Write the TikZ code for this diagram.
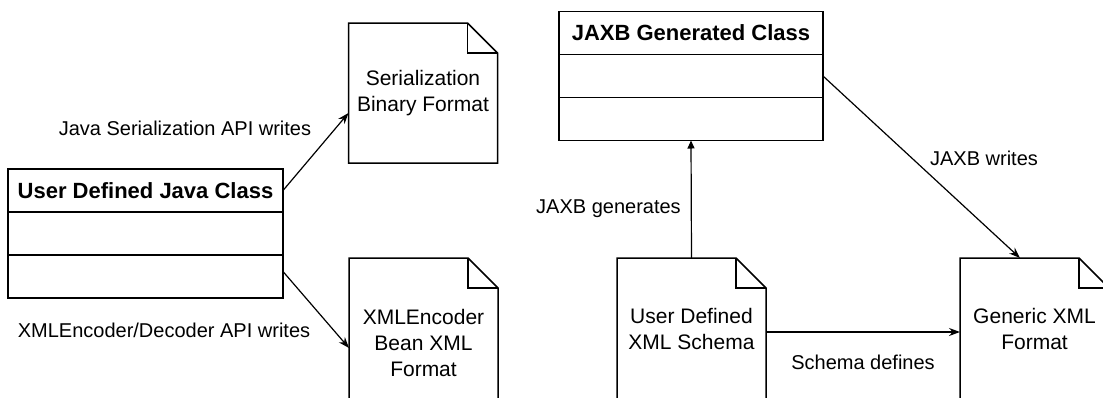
\documentclass[tikz,border=0pt]{standalone}
\usepackage{fontspec}
\setmainfont{Liberation Sans}
\usetikzlibrary{arrows.meta}
\newcommand\docoutline[1]{%
  \draw[docline] (#1.south west) -- (#1.north west) -- ([xshift=-30pt]#1.north east) -- ([yshift=-30pt]#1.north east) -- (#1.south east) -- cycle;
  \draw[docline] ([xshift=-30pt]#1.north east) -- ([xshift=-30pt,yshift=-30pt]#1.north east) -- ([yshift=-30pt]#1.north east);
}
\begin{document}
\begin{tikzpicture}[x=1pt,y=-1pt,
  every node/.style={inner sep=0pt, outer sep=0pt},
  lbl/.style={font=\fontsize{20}{26}\selectfont, align=center},
  hdr/.style={draw, line width=1.5pt, minimum height=43pt, font=\fontsize{22}{26}\selectfont\bfseries},
  cellbox/.style={draw, line width=1.5pt, minimum height=43pt},
  docnode/.style={font=\fontsize{21}{26}\selectfont, align=center, minimum width=149pt},
  docline/.style={line width=1.5pt},
  conn/.style={line width=1.2pt, -{Stealth[length=11pt,width=8pt]}},
  genconn/.style={line width=1.2pt, -{Triangle[length=8pt,width=7pt]}}
]
\useasboundingbox (0,0) rectangle (1103,397);
\clip (0,0) rectangle (1103,397);

% User Defined Java Class
\node[hdr, minimum width=275pt] (udjc) at (145.5,190.5) {User Defined Java Class};
\node[cellbox, minimum width=275pt] (udjc2) at (145.5,233.5) {};
\node[cellbox, minimum width=275pt] (udjc3) at (145.5,276.5) {};

% JAXB Generated Class
\node[hdr, minimum width=264pt] (jaxb) at (691,33) {JAXB Generated Class};
\node[cellbox, minimum width=264pt] (jaxb2) at (691,76) {};
\node[cellbox, minimum width=264pt] (jaxb3) at (691,119) {};

% Documents
\node[docnode, minimum height=140pt] (ser) at (423,93) {Serialization\\Binary Format};
\docoutline{ser}
\node[docnode, minimum height=170pt] (xmlenc) at (423.5,343) {XMLEncoder\\Bean XML\\Format};
\docoutline{xmlenc}
\node[docnode, minimum height=142pt] (schema) at (691.5,329) {User Defined\\XML Schema};
\docoutline{schema}
\node[docnode, minimum height=142pt] (gen) at (1034.5,329) {Generic XML\\Format};
\docoutline{gen}

% Connectors
\draw[conn] (udjc.east) -- ([yshift=-20pt]ser.west);
\draw[conn] ([yshift=5pt]udjc3.east) -- ([yshift=-5pt]xmlenc.west);
\draw[genconn] (schema.north) -- (jaxb3.south);
\draw[conn] (jaxb2.east) -- ([xshift=60pt]gen.north west);
\draw[conn] ([yshift=-3pt]schema.east) -- ([yshift=-3pt]gen.west);

% Labels
\node[lbl] (l1) at (185,128) {Java Serialization API writes};
\node[lbl] (l2) at (164,330) {XMLEncoder/Decoder API writes};
\node[lbl] (l3) at (608.5,209) {JAXB generates};
\node[lbl] (l4) at (984,158) {JAXB writes};
\node[lbl] (l5) at (863,362) {Schema defines};
\end{tikzpicture}
\end{document}
